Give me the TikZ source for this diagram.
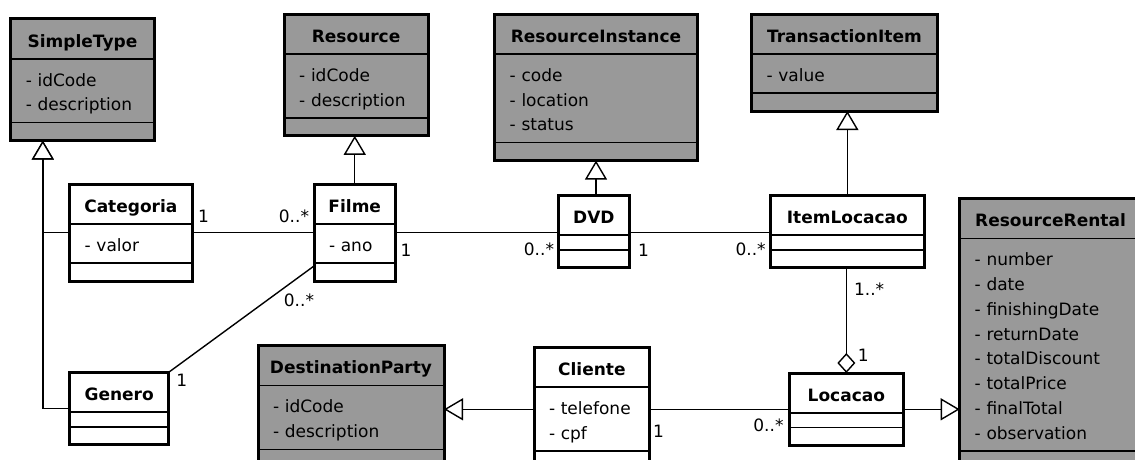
\documentclass[tikz,border=0pt]{standalone}
\usepackage{fontspec}
\setmainfont{DejaVu Sans}
\usepackage{xcolor}
\usepackage{tikz}
\usetikzlibrary{shapes.multipart, arrows.meta, positioning}

\definecolor{classgrey}{RGB}{153,153,153}

% compartment contents
\newcommand{\clsname}[1]{\rule[-10.8pt]{0pt}{38.3pt}\makebox[\linewidth]{\bfseries #1}}
\newcommand{\attrs}[1]{\rule{0pt}{26.5pt}#1\rule[-11pt]{0pt}{11pt}}
\newcommand{\noattr}{\rule{0pt}{13.3pt}}
\newcommand{\noops}{\rule{0pt}{16.5pt}}

\begin{document}
\begin{tikzpicture}[
        x=1pt, y=-1pt,
        umlclass/.style={
            rectangle split,
            rectangle split parts=3,
            draw=black,
            line width=1.5pt,
            fill=white,
            inner xsep=15pt,
            inner ysep=0pt,
            outer sep=0pt,
            anchor=north west,
            align=left,
            font=\fontsize{17}{24.8}\selectfont
        },
        umlbase/.style={
            umlclass,
            fill=classgrey
        },
        clsborder/.style={
            draw=black,
            line width=3pt
        },
        assoc/.style={
            draw,
            line width=1.4pt
        },
        inherit/.style={
            assoc,
            -{Triangle[fill=white, length=19pt, width=22pt]}
        },
        aggr/.style={
            assoc,
            -{Diamond[fill=white, length=20pt, width=18pt]}
        },
        mult/.style={
            inner sep=0pt,
            outer sep=0pt,
            font=\fontsize{17}{20}\selectfont
        }
    ]
        \useasboundingbox (0,0) rectangle (1135,460);
        \clip (0,0) rectangle (1135,460);

        % Framework classes
        \node [umlbase, text width=113.4pt] (st) at (10.8,19) {\clsname{SimpleType}\nodepart{two}\attrs{- idCode\\- description}\nodepart{three}\noops};
        \node [umlbase, text width=113.8pt] (res) at (284.2,14.2) {\clsname{Resource}\nodepart{two}\attrs{- idCode\\- description}\nodepart{three}\noops};
        \node [umlbase, text width=172.6pt] (ri) at (494.7,14.2) {\clsname{ResourceInstance}\nodepart{two}\attrs{- code\\- location\\- status}\nodepart{three}\noops};
        \node [umlbase, text width=155.8pt] (ti) at (751.5,14.2) {\clsname{TransactionItem}\nodepart{two}\attrs{- value}\nodepart{three}\noops};
        \node [umlbase, text width=151.6pt] (rr) at (959.7,198.7) {\clsname{ResourceRental}\nodepart{two}\attrs{- number\\- date\\- finishingDate\\- returnDate\\- totalDiscount\\- totalPrice\\- finalTotal\\- observation}\nodepart{three}\noops};
        \node [umlbase, text width=156pt] (dp) at (258,345.7) {\clsname{DestinationParty}\nodepart{two}\attrs{- idCode\\- description}\nodepart{three}\noops};

        % Application classes
        \node [umlclass, text width=92.3pt] (cat) at (69.7,184.2) {\clsname{Categoria}\nodepart{two}\attrs{- valor}\nodepart{three}\noops};
        \node [umlclass, text width=51.5pt] (film) at (314,184.2) {\clsname{Filme}\nodepart{two}\attrs{- ano}\nodepart{three}\noops};
        \node [umlclass, text width=41.7pt] (dvd) at (558,195.2) {\clsname{DVD}\nodepart{two}\noattr\nodepart{three}\noops};
        \node [umlclass, text width=123.3pt] (il) at (770.7,195.2) {\clsname{ItemLocacao}\nodepart{two}\noattr\nodepart{three}\noops};
        \node [umlclass, text width=69pt] (gen) at (69.7,372.3) {\clsname{Genero}\nodepart{two}\noattr\nodepart{three}\noops};
        \node [umlclass, text width=85.7pt] (cli) at (534,347.3) {\clsname{Cliente}\nodepart{two}\attrs{- telefone\\- cpf}\nodepart{three}\noops};
        \node [umlclass, text width=83.3pt] (loc) at (789.7,373) {\clsname{Locacao}\nodepart{two}\noattr\nodepart{three}\noops};

        % Generalizations
        \coordinate (stfoot) at ([xshift=32pt]st.south west);
        \draw [inherit] (cat.west) -| (stfoot);
        \draw [inherit] (gen.west) -| (stfoot);
        \draw [inherit] (film.north) -- (film.north |- res.south);
        \draw [inherit] (dvd.north -| ri.south) -- (ri.south);
        \draw [inherit] (il.north) -- (il.north |- ti.south);
        \draw [inherit] (cli.west |- loc.west) -- (dp.east |- loc.west);
        \draw [inherit] (loc.east) -- (loc.east -| rr.west);

        % Associations
        \draw [assoc] (cat.east) -- (film.west);
        \draw [assoc] (film.east) -- (film.east -| dvd.west);
        \draw [assoc] (dvd.east |- film.east) -- (film.east -| il.west);
        \draw [assoc] (gen.north east) -- ([yshift=-3pt]film.two split west);
        \draw [assoc] (cli.east |- loc.west) -- (loc.west);
        \draw [aggr] (il.south -| loc.north) -- (loc.north);

        % Multiplicities
        \node [mult, above right=10.2pt and 6pt of cat.east] (catone) {1};
        \node [mult, above left=10.2pt and 5pt of film.west] (filmcatmany) {0..*};
        \node [mult, below right=11.3pt and 5pt of film.east] (filmone) {1};
        \node [mult, below left=11.8pt and 4pt of dvd.west] (dvdmany) {0..*};
        \node [mult, below right=12.3pt and 8.4pt of dvd.east] (dvdone) {1};
        \node [mult, below left=11.8pt and 5pt of il.west] (ilmany) {0..*};
        \node [mult, below left=12.5pt and 0pt of film.south west] (filmgenmany) {0..*};
        \node [mult, below right=2pt and 7.7pt of gen.north east] (genone) {1};
        \node [mult, below right=15.4pt and 6.7pt of il.south] (ilaggmany) {1..*};
        \node [mult, above right=11.3pt and 11.6pt of loc.north] (locone) {1};
        \node [mult, below right=16.9pt and 3.4pt of cli.east] (clione) {1};
        \node [mult, below left=10pt and 6.2pt of loc.west] (locmany) {0..*};

        % Outer class borders
        \foreach \c in {st, res, ri, ti, rr, dp, cat, film, dvd, il, gen, cli, loc}
            \draw [clsborder] (\c.north west) rectangle (\c.south east);
    \end{tikzpicture}
\end{document}
